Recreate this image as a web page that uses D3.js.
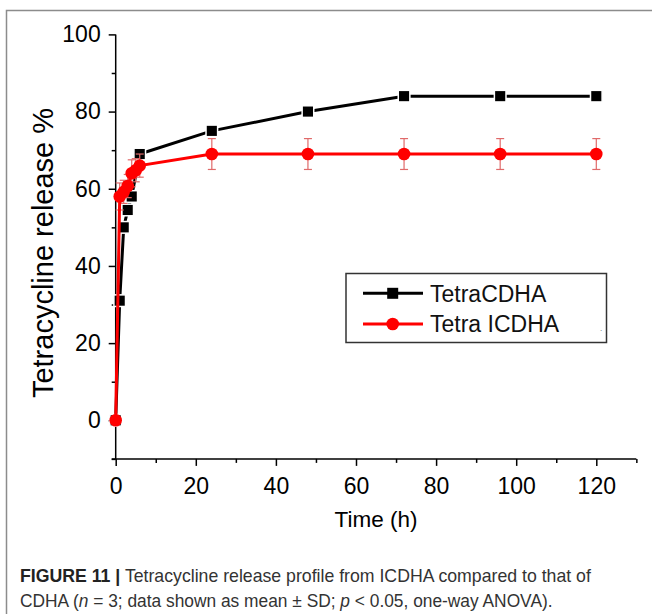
<!DOCTYPE html>
<html>
<head>
<meta charset="utf-8">
<script src="https://cdn.jsdelivr.net/npm/d3@7"></script>
<style>
  html, body { margin: 0; padding: 0; background: #fff; }
  svg { display: block; }
</style>
</head>
<body>
<svg id="chart" width="652" height="614"></svg>
<script>
// ---- data ----
const timesCDHA   = [0, 1, 2, 3, 4, 6, 24, 48, 72, 96, 120];
const releaseCDHA = [0, 31, 50, 54.5, 58, 69, 75, 80, 84, 84, 84];
const timesICDHA   = [0, 1, 2, 3, 4, 5, 6, 24, 48, 72, 96, 120];
const releaseICDHA = [0, 58, 59.2, 60.7, 64, 64.8, 66, 69, 69, 69, 69, 69];
const sdICDHA      = [0, 3.5, 3, 3, 3.5, 3, 3, 4, 4, 4, 4, 4];
const xMajorTicks = [0, 20, 40, 60, 80, 100, 120];
const xMinorTicks = [10, 30, 50, 70, 90, 110, 130];
const yMajorTicks = [0, 20, 40, 60, 80, 100];
const yMinorTicks = [-10, 10, 30, 50, 70, 90];
const seriesNames = ["TetraCDHA", "Tetra ICDHA"];
const xTitle = "Time (h)";
const yTitle = "Tetracycline release %";
const captionLine1Bold = "FIGURE 11 |";
const captionLine1 = " Tetracycline release profile from ICDHA compared to that of";

// ---- layout ----
const svg = d3.select("#chart");
const x = d3.scaleLinear().domain([0, 120]).range([115.7, 596.3]);
const y = d3.scaleLinear().domain([0, 100]).range([420.3, 34.4]);
const xAxisY = y(-10);
const font = "'Liberation Sans', Arial, Helvetica, sans-serif";

// figure frame
svg.append("rect")
  .attr("x", 6.5).attr("y", 10.5).attr("width", 800).attr("height", 800)
  .attr("fill", "none").attr("stroke", "#8c8c8c").attr("stroke-width", 1.5);

// axes
const gx = svg.append("g").attr("transform", `translate(0,${xAxisY})`);
gx.call(d3.axisBottom(x).tickValues(xMajorTicks).tickSize(7).tickSizeOuter(0).tickPadding(12).tickFormat(d3.format("d")));
const gxm = svg.append("g").attr("transform", `translate(0,${xAxisY})`);
gxm.call(d3.axisBottom(x).tickValues(xMinorTicks).tickSize(4).tickSizeOuter(0).tickFormat(""));
[gx, gxm].forEach(g => g.select(".domain").remove());
svg.append("line")
  .attr("x1", x(-1)).attr("x2", x(130)).attr("y1", xAxisY).attr("y2", xAxisY)
  .attr("stroke", "#000").attr("stroke-width", 1.5);

const gy = svg.append("g").attr("transform", `translate(${x(0)},0)`);
gy.call(d3.axisLeft(y).tickValues(yMajorTicks).tickSize(7).tickSizeOuter(0).tickPadding(8).tickFormat(d3.format("d")));
const gym = svg.append("g").attr("transform", `translate(${x(0)},0)`);
gym.call(d3.axisLeft(y).tickValues(yMinorTicks).tickSize(4).tickSizeOuter(0).tickFormat(""));
[gy, gym].forEach(g => g.select(".domain").remove());
svg.append("line")
  .attr("x1", x(0)).attr("x2", x(0)).attr("y1", y(100)).attr("y2", xAxisY)
  .attr("stroke", "#000").attr("stroke-width", 1.5);

svg.selectAll(".tick line").attr("stroke", "#000").attr("stroke-width", 1.5);
svg.selectAll(".tick text").attr("font-family", font).attr("font-size", 23).attr("fill", "#000");

// axis titles
svg.append("text")
  .attr("x", x(65)).attr("y", 527)
  .attr("text-anchor", "middle").attr("font-family", font).attr("font-size", 22.5)
  .text(xTitle);
svg.append("text")
  .attr("transform", `translate(53,253) rotate(-90)`)
  .attr("text-anchor", "middle").attr("font-family", font).attr("font-size", 29)
  .text(yTitle);

// data
const dataC = timesCDHA.map((t, i) => ({t, v: releaseCDHA[i]}));
const dataI = timesICDHA.map((t, i) => ({t, v: releaseICDHA[i], sd: sdICDHA[i]}));
const line = d3.line().x(d => x(d.t)).y(d => y(d.v));

svg.append("path").datum(dataC)
  .attr("d", line).attr("fill", "none").attr("stroke", "#000").attr("stroke-width", 3);
svg.append("g").selectAll("rect").data(dataC).join("rect")
  .attr("x", d => x(d.t) - 5.8).attr("y", d => y(d.v) - 5.8)
  .attr("width", 11.6).attr("height", 11.6)
  .attr("fill", "#000").attr("stroke", "#fff").attr("stroke-width", 1.5);

// error bars
const eb = svg.append("g").attr("stroke", "#e06a6a").attr("stroke-width", 1.2);
dataI.filter(d => d.sd > 0).forEach(d => {
  eb.append("line").attr("x1", x(d.t)).attr("x2", x(d.t)).attr("y1", y(d.v - d.sd)).attr("y2", y(d.v + d.sd));
  eb.append("line").attr("x1", x(d.t) - 4).attr("x2", x(d.t) + 4).attr("y1", y(d.v - d.sd)).attr("y2", y(d.v - d.sd));
  eb.append("line").attr("x1", x(d.t) - 4).attr("x2", x(d.t) + 4).attr("y1", y(d.v + d.sd)).attr("y2", y(d.v + d.sd));
});

svg.append("path").datum(dataI)
  .attr("d", line).attr("fill", "none").attr("stroke", "#ff0000").attr("stroke-width", 3);
svg.append("g").selectAll("circle").data(dataI).join("circle")
  .attr("cx", d => x(d.t)).attr("cy", d => y(d.v)).attr("r", 6.3)
  .attr("fill", "#ff0000");

// legend
const lg = svg.append("g");
lg.append("rect").attr("x", 346).attr("y", 273.5).attr("width", 260.5).attr("height", 69)
  .attr("fill", "#fff").attr("stroke", "#333").attr("stroke-width", 1.5);
const legendRows = [
  {name: seriesNames[0], color: "#000", shape: "square", yy: 293.3},
  {name: seriesNames[1], color: "#ff0000", shape: "circle", yy: 324}
];
legendRows.forEach(r => {
  lg.append("line").attr("x1", 363).attr("x2", 423).attr("y1", r.yy).attr("y2", r.yy)
    .attr("stroke", r.color).attr("stroke-width", 3);
  if (r.shape === "square") {
    lg.append("rect").attr("x", 392.7 - 5.5).attr("y", r.yy - 5.5).attr("width", 11).attr("height", 11).attr("fill", r.color);
  } else {
    lg.append("circle").attr("cx", 392.7).attr("cy", r.yy).attr("r", 6.3).attr("fill", r.color);
  }
  lg.append("text").attr("x", 430).attr("y", r.yy + 8.3)
    .attr("font-family", font).attr("font-size", 23).attr("fill", "#111").text(r.name);
});
lg.append("text").attr("x", 600).attr("y", 331).attr("font-family", font).attr("font-size", 8).attr("fill", "#555").text(".");

// caption (horizontally condensed to match the narrow caption face)
const capFont = "'Liberation Sans', Arial, sans-serif";
function fitLine(g, target) {
  const w = g.select("text").node().getComputedTextLength();
  const sx = target / w;
  g.select("text").attr("transform", `scale(${sx},1)`);
}
const g1 = svg.append("g").attr("transform", "translate(20,582)");
const c1 = g1.append("text").attr("font-family", capFont).attr("font-size", 18.5).attr("fill", "#333");
c1.append("tspan").attr("font-weight", "bold").attr("fill", "#222").text(captionLine1Bold);
c1.append("tspan").text(captionLine1);
fitLine(g1, 571);
const g2 = svg.append("g").attr("transform", "translate(20,607)");
const c2 = g2.append("text").attr("font-family", capFont).attr("font-size", 18.5).attr("fill", "#333");
c2.append("tspan").text("CDHA (");
c2.append("tspan").attr("font-style", "italic").text("n");
c2.append("tspan").text(" = 3; data shown as mean ± SD; ");
c2.append("tspan").attr("font-style", "italic").text("p");
c2.append("tspan").text(" < 0.05, one-way ANOVA).");
fitLine(g2, 533);
</script>
</body>
</html>
